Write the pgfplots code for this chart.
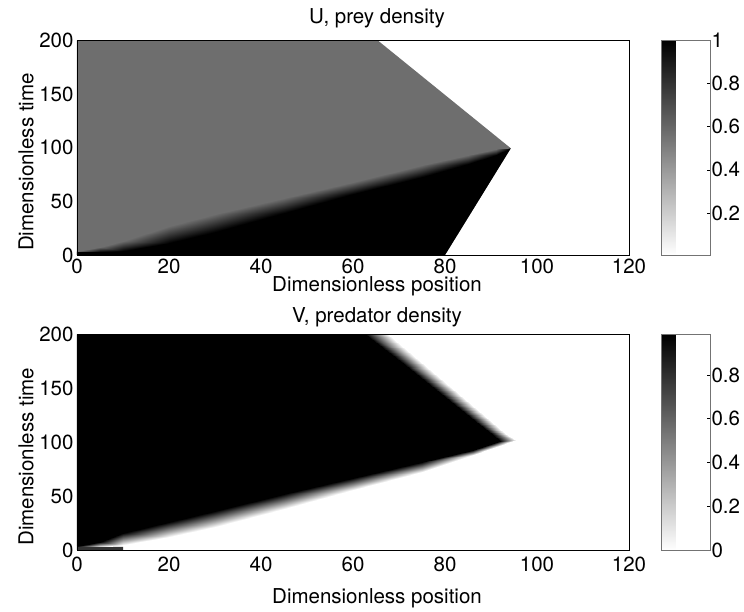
\documentclass[border=0pt]{standalone}
\usepackage{fontspec}
\setmainfont{TeX Gyre Heros}
\usepackage{pgfplots}
\pgfplotsset{compat=1.18}
\usepgfplotslibrary{patchplots}
\pgfkeys{/pgf/number format/assume math mode=true}

\newcommand\fs{\fontsize{20.5}{24}\selectfont}
\definecolor{plateau}{gray}{0.432}% U at the coexistence state (0.57)
\definecolor{seed}{gray}{0.2}%      initial predator patch (0.79)

\pgfplotsset{
  field/.style={
    scale only axis, width=552pt,
    xmin=0, xmax=120, ymin=0, ymax=200,
    xtick={0,20,...,120}, ytick={0,50,...,200},
    major tick length=0pt,
    axis on top,
    axis line style={line width=0.9pt},
    tick label style={font=\fs},
    label style={font=\fs},
    title style={font=\fs, at={(axis description cs:0.5435,1)}, anchor=base},
    xlabel={Dimensionless position},
    ylabel={Dimensionless time},
    ylabel style={at={(axis description cs:-0.0792,0.433)}, anchor=base},
    colormap={invgray}{gray(0cm)=(1); gray(1cm)=(0)},
    colorbar,
  },
  bar/.style={
    at={(parent axis.north east)}, anchor=north west, xshift=24.2pt,
    scale only axis, width=48.3pt, height=#1,
    ytick pos=right, yticklabel pos=right,
    tick align=inside, major tick length=3pt,
    tick style={black, line width=0.5pt},
    yticklabel style={font=\fs, xshift=-2pt},
    axis line style={black!55, line width=0.6pt},
  },
}

\begin{document}
\begin{tikzpicture}
\useasboundingbox (0,0) rectangle (744pt,612pt);

% ---------------- prey density U ----------------
\begin{axis}[field,
  at={(77pt,357pt)}, anchor=south west, height=214.5pt,
  title={U, prey density}, title style={yshift=11pt},
  xlabel style={at={(axis description cs:0.5435,-0.1725)}, anchor=base},
  point meta min=0.005, point meta max=1,
  colorbar style={bar=214.5pt, ytick={0.2,0.4,0.6,0.8,1}},
]
% region reached by the invasion (plateau level)
\addplot[draw=none, fill=plateau, forget plot] coordinates {
  (0,0) (80,0) (94.3,99.5) (65.4,200) (0,200) (0,0)};
% prey still at carrying capacity ahead of the predator front
\addplot[draw=none, fill=black, forget plot] coordinates {
  (0,0) (80,0) (94.3,99.5) (91,95.7) (85,89.2) (75,78.2) (60,62.2)
  (45,46) (30,29.7) (20,19) (10,8.5) (5,4.9) (0,3.2) (0,0)};
% smooth transition across the predator front
\addplot[patch, patch type=rectangle, shader=interp, point meta=explicit, forget plot]
  table[x=x, y=t, meta=c] {
x t c
0 2.8 1
5 2.8 1
5 7 0.57
0 3.6 0.57
5 2.8 1
10 3.5 1
10 13.5 0.57
5 7 0.57
10 3.5 1
20 11 1
20 27 0.57
10 13.5 0.57
20 11 1
30 21.5 1
30 38 0.57
20 27 0.57
30 21.5 1
45 39 1
45 53 0.57
30 38 0.57
45 39 1
60 56.5 1
60 68 0.57
45 53 0.57
60 56.5 1
75 73 1
75 83.5 0.57
60 68 0.57
75 73 1
85 85 1
85 93.5 0.57
75 83.5 0.57
85 85 1
91 93 1
91 98.5 0.57
85 93.5 0.57
91 93 1
94.3 99.5 1
94.3 99.5 0.57
91 98.5 0.57
};
\end{axis}

% ---------------- predator density V ----------------
\begin{axis}[field,
  at={(77pt,62pt)}, anchor=south west, height=215.5pt,
  title={V, predator density}, title style={yshift=6pt},
  xlabel style={at={(axis description cs:0.5435,-0.2473)}, anchor=base},
  xticklabel style={yshift=-3.5pt},
  point meta min=0, point meta max=0.985,
  colorbar style={bar=215.5pt, ytick={0,0.2,0.4,0.6,0.8}},
]
% initial predator patch
\addplot[draw=none, fill=seed, forget plot] coordinates {
  (0,0) (10,0) (10,3) (0,3) (0,0)};
% established predator population
\addplot[draw=none, fill=black, forget plot] coordinates {
  (0,3.2) (5,5) (10,10) (20,19) (30,29) (45,45.2) (60,61.5) (75,77)
  (86,90.5) (93.5,101.5) (91.8,108) (88.3,120) (79.6,150) (72.4,175)
  (65.2,200) (0,200) (0,3.2)};
% diffuse edges of the predator region
\addplot[patch, patch type=rectangle, shader=interp, point meta=explicit, forget plot]
  table[x=x, y=t, meta=c] {
x t c
0 3.0 0
5 3.0 0
5 7 0.985
0 3.4 0.985
5 3.0 0
10 4.5 0
10 16 0.985
5 7 0.985
10 4.5 0
20 12 0
20 26 0.985
10 16 0.985
20 12 0
30 21.5 0
30 36.5 0.985
20 26 0.985
30 21.5 0
45 38.5 0
45 52 0.985
30 36.5 0.985
45 38.5 0
60 56 0
60 67 0.985
45 52 0.985
60 56 0
75 72 0
75 82 0.985
60 67 0.985
75 72 0
86 88 0
86 93 0.985
75 82 0.985
86 88 0
95.5 102 0
92 101 0.985
86 93 0.985
92 101 0.985
90.3 108 0.985
93.3 108 0
95.5 102 0
90.3 108 0.985
86.6 120 0.985
90.0 120 0
93.3 108 0
86.6 120 0.985
77.6 150 0.985
81.6 150 0
90.0 120 0
77.6 150 0.985
70.2 175 0.985
74.6 175 0
81.6 150 0
70.2 175 0.985
62.7 200 0.985
67.7 200 0
74.6 175 0
};
\end{axis}
\end{tikzpicture}
\end{document}
